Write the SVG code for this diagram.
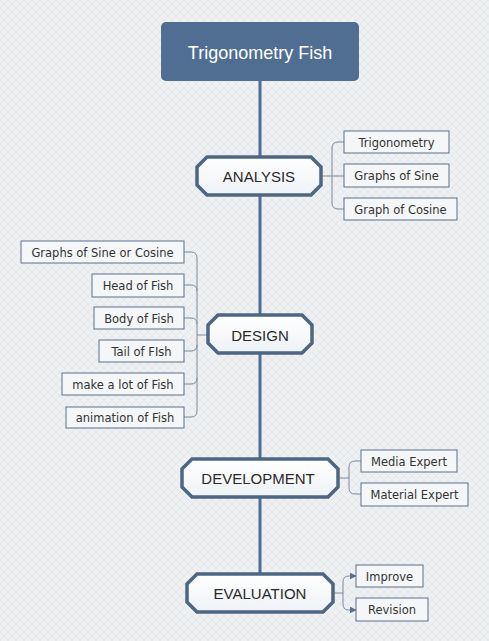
<svg xmlns="http://www.w3.org/2000/svg" width="489" height="641" viewBox="0 0 489 641">
<defs>
<pattern id="hatch" width="8" height="8" patternUnits="userSpaceOnUse">
<path d="M0,8 L8,0 M0,0 L8,8" stroke="#dfe2e5" stroke-width="0.6"/>
</pattern>
<linearGradient id="octfill" x1="0" y1="0" x2="0" y2="1">
<stop offset="0" stop-color="#ffffff"/>
<stop offset="1" stop-color="#eef2f6"/>
</linearGradient>
<marker id="arr" viewBox="0 0 10 10" refX="9" refY="5" markerWidth="7" markerHeight="7" orient="auto" markerUnits="userSpaceOnUse">
<path d="M0,0 L10,5 L0,10 Z" fill="#5d7089"/>
</marker>
<style>
.oct{fill:url(#octfill);stroke:#4d6682;stroke-width:3.5;stroke-linejoin:miter}
.octt{font-family:"Liberation Sans",Arial,sans-serif;font-size:15px;fill:#2a2a2a;text-anchor:middle}
.box{fill:#f4f6f8;stroke:#5d7089;stroke-width:1}
.bt{font-family:"DejaVu Sans",Verdana,sans-serif;font-size:11.5px;fill:#333;text-anchor:middle}
.con{fill:none;stroke:#7a8a9c;stroke-width:1}
.spine{fill:none;stroke:#4f6e91;stroke-width:3}
</style>
</defs>
<rect width="489" height="641" fill="#eef0f1"/>
<rect width="489" height="641" fill="url(#hatch)"/>

<g id="connectors">
<path class="spine" d="M260,81 V574"/>
<path class="con" d="M321,176 H344 M344,142 H338 Q332,142 332,148 V203 Q332,209 338,209 H344"/>
<path class="con" d="M208,335 H197 M184,252 H191 Q197,252 197,258 V411 Q197,417 191,417 H184 M184,285 H191 Q197,285 197,291 M184,318 H191 Q197,318 197,324 M184,351 H191 Q197,351 197,345 M184,384 H191 Q197,384 197,378"/>
<path class="con" d="M338,478 H349 M361,461 H355 Q349,461 349,467 V488 Q349,494 355,494 H361"/>
<path class="con" d="M333,593 H343"/>
<path class="con" d="M343,593 V582 Q343,576 349,576 H356" marker-end="url(#arr)"/>
<path class="con" d="M343,593 V604 Q343,610 349,610 H356" marker-end="url(#arr)"/>
</g>

<g id="title">
<rect x="161" y="22" width="198" height="59" rx="5" fill="#4f6e91"/>
<text x="260" y="59" font-family="Liberation Sans,Arial,sans-serif" font-size="18" fill="#ffffff" text-anchor="middle">Trigonometry Fish</text>
</g>

<g id="analysis">
<path class="oct" d="M207,157 H311 L321,167 V185 L311,195 H207 L197,185 V167 Z"/>
<text class="octt" x="259" y="181.5">ANALYSIS</text>
</g>
<g id="trigonometry"><rect class="box" x="344" y="131" width="105" height="22"/><text class="bt" x="396.5" y="146.5">Trigonometry</text></g>
<g id="graphs-of-sine"><rect class="box" x="344" y="164" width="105" height="23"/><text class="bt" x="396.5" y="180">Graphs of Sine</text></g>
<g id="graph-of-cosine"><rect class="box" x="344" y="198" width="113" height="22"/><text class="bt" x="400.5" y="213.5">Graph of Cosine</text></g>

<g id="design">
<path class="oct" d="M218,315 H302 L312,325 V343 L302,353 H218 L208,343 V325 Z"/>
<text class="octt" x="260" y="340.5">DESIGN</text>
</g>
<g id="graphs-sine-cosine"><rect class="box" x="21" y="241" width="163" height="22"/><text class="bt" x="102.5" y="256.5">Graphs of Sine or Cosine</text></g>
<g id="head"><rect class="box" x="92" y="274" width="92" height="23"/><text class="bt" x="138" y="290">Head of Fish</text></g>
<g id="body"><rect class="box" x="94" y="307" width="90" height="22"/><text class="bt" x="139" y="322.5">Body of Fish</text></g>
<g id="tail"><rect class="box" x="99" y="340" width="85" height="22"/><text class="bt" x="141.5" y="355.5">Tail of FIsh</text></g>
<g id="make-lot"><rect class="box" x="62" y="373" width="122" height="22"/><text class="bt" x="123" y="388.5">make a lot of Fish</text></g>
<g id="animation"><rect class="box" x="66" y="407" width="118" height="21"/><text class="bt" x="125" y="422">animation of Fish</text></g>

<g id="development">
<path class="oct" d="M192,459 H328 L338,469 V487 L328,497 H192 L182,487 V469 Z"/>
<text class="octt" x="258" y="483.5">DEVELOPMENT</text>
</g>
<g id="media-expert"><rect class="box" x="361" y="450" width="96" height="22"/><text class="bt" x="409" y="465.5">Media Expert</text></g>
<g id="material-expert"><rect class="box" x="361" y="483" width="107" height="23"/><text class="bt" x="414.5" y="499">Material Expert</text></g>

<g id="evaluation">
<path class="oct" d="M197,574 H323 L333,584 V602 L323,612 H197 L187,602 V584 Z"/>
<text class="octt" x="260" y="598.5">EVALUATION</text>
</g>
<g id="improve"><rect class="box" x="356" y="565" width="67" height="22"/><text class="bt" x="389.5" y="580.5">Improve</text></g>
<g id="revision"><rect class="box" x="356" y="598" width="72" height="23"/><text class="bt" x="392" y="614">Revision</text></g>
</svg>
